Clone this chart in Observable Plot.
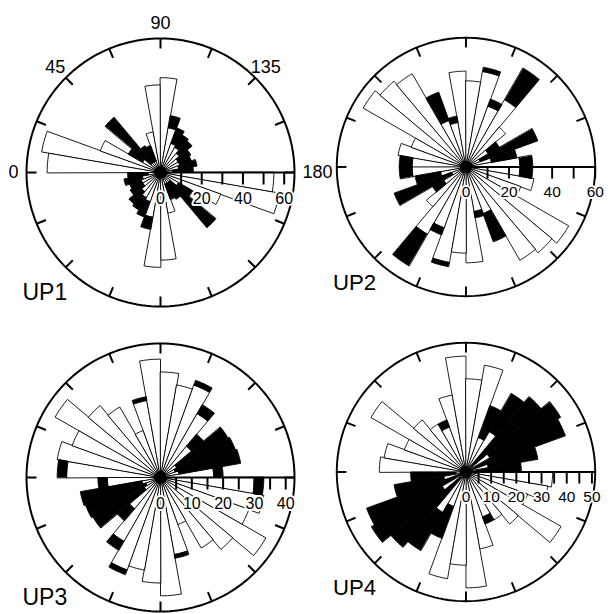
<!DOCTYPE html>
<html><head><meta charset="utf-8">
<script src="https://cdn.jsdelivr.net/npm/d3@7"></script>
<script src="https://cdn.jsdelivr.net/npm/@observablehq/plot@0.6"></script>
<style>
body{margin:0;background:#fff;}
#wrap{position:relative;width:614px;height:614px;overflow:hidden;background:#fff;}
#wrap > div{position:absolute;}
</style></head><body><div id="wrap"></div>
<script>
// orientation bins (degrees, 0 = W, 90 = N, 180 = E); each bin drawn twice (axial data)
const binStart = [0,10,20,30,40,50,60,70,80,90,100,110,120,130,140,150,160,170];

const up1White = [55,58.5,31,10,6,6,6,20,42.5,46,22,15,14,12,10,10,9,6];
const up1Black = [0,0,0,8,29,9,8,0,0,0,6,8,7,8,7,6,9,10];
const up2White = [25,32,27,55,52,50,23,21,44.5,40,45,30,36,24,12,7,12,25];
const up2Black = [6,0,0,0,0,0,14,3,0,0,2,3.5,17,0,6,28.5,12,6];
const up3White = [30,33.5,30,38.8,30,26,16,25,37.8,33.7,30,31.4,23.5,13,6,5,6,17];
const up3Black = [3,0,0,0,0,0,0,1.2,0,0,0,1.6,3.3,5,19,20.5,20,3];
const up4White = [34.4,33,26,43.5,27,22,19,31,46,37,43,14.5,18.5,3,11,3,9,4];
const up4Black = [0,0,0,0,0,0,3,0,0,0,0,13.5,17.5,36,32.4,39,20,18];

const up1Ticks = [10,20,30,40,50,60];
const up1Labels = [0,20,40,60];
const up2Ticks = [10,20,30,40,50,60];
const up2Labels = [0,20,40,60];
const up3Ticks = [5,10,15,20,25,30,35,40];
const up3Labels = [0,10,20,30,40];
const up4Ticks = [5,10,15,20,25,30,35,40,45,50];
const up4Labels = [0,10,20,30,40,50];

const angleLabels = ["0","45","90","135","180"];
const angleLabelDeg = [0,45,90,135,180];
const panelNames = ["UP1","UP2","UP3","UP4"];

const RPX = 134; // circle radius in px
const S = 308;
const panels = [
  {name: panelNames[0], white: up1White, black: up1Black, max: 65, ticks: up1Ticks, labels: up1Labels, cx: 160, cy: 172, angles: true},
  {name: panelNames[1], white: up2White, black: up2Black, max: 60, ticks: up2Ticks, labels: up2Labels, cx: 471, cy: 172},
  {name: panelNames[2], white: up3White, black: up3Black, max: 42.8, ticks: up3Ticks, labels: up3Labels, cx: 160, cy: 477},
  {name: panelNames[3], white: up4White, black: up4Black, max: 51.3, ticks: up4Ticks, labels: up4Labels, cx: 471, cy: 477}
];

const rad = d => d * Math.PI / 180;
const px = (phi, r) => -r * Math.cos(rad(phi));
const py = (phi, r) => r * Math.sin(rad(phi));

function wedge(id, a0, a1, r0, r1) {
  const pts = [];
  const n = 6;
  for (let k = 0; k <= n; k++) { const a = a0 + (a1 - a0) * k / n; pts.push({id, x: px(a, r1), y: py(a, r1)}); }
  if (r0 > 0) {
    for (let k = n; k >= 0; k--) { const a = a0 + (a1 - a0) * k / n; pts.push({id, x: px(a, r0), y: py(a, r0)}); }
  } else pts.push({id, x: 0, y: 0});
  return pts;
}

const wrap = document.getElementById("wrap");
panels.forEach((p, pi) => {
  const ppu = RPX / p.max;          // px per unit
  const half = (S / 2) / ppu;
  const R = p.max;
  const whiteRows = [], blackRows = [];
  binStart.forEach((b, i) => {
    [0, 180].forEach(m => {
      const a0 = b + m, a1 = b + 10 + m;
      const w = p.white[i], k = p.black[i];
      if (w > 0) whiteRows.push(...wedge(`w${i}-${m}`, a0, a1, 0, w));
      if (k > 0) blackRows.push(...wedge(`k${i}-${m}`, a0, a1, w, w + k));
    });
  });
  const circle = d3.range(0, 360, 2).map(a => ({x: px(a, R), y: py(a, R)}));
  const ringTicks = d3.range(0, 360, 22.5);
  const tl = 10 / ppu;
  const marks = [
    Plot.line(whiteRows, {x: "x", y: "y", z: "id", curve: "linear-closed", fill: "white", stroke: "black", strokeWidth: 0.9}),
    Plot.line(blackRows, {x: "x", y: "y", z: "id", curve: "linear-closed", fill: "black", stroke: "black", strokeWidth: 0.9}),
    Plot.line(circle, {x: "x", y: "y", curve: "linear-closed", stroke: "black", strokeWidth: 2, fill: "none"}),
    Plot.link(ringTicks, {x1: a => px(a, R), y1: a => py(a, R), x2: a => px(a, R - tl), y2: a => py(a, R - tl), stroke: "black", strokeWidth: 2}),
    Plot.link([0], {x1: () => 0, y1: () => 0, x2: () => R, y2: () => 0, stroke: "black", strokeWidth: 2}),
    Plot.link(p.ticks, {x1: t => t, y1: () => 0, x2: t => t, y2: () => -12 / ppu, stroke: "black", strokeWidth: 2}),
    Plot.text(p.labels, {x: t => t, y: () => -26 / ppu, text: t => String(t), fontSize: 16, fill: "black", stroke: "white", strokeWidth: 4, paintOrder: "stroke"}),
    Plot.dot([0], {x: () => 0, y: () => 0, r: 6.5, fill: "black"}),
    Plot.text([p.name], {x: () => -138 / ppu, y: () => -120 / ppu, text: d => d, textAnchor: "start", fontSize: 23, fill: "black"})
  ];
  if (p.angles) {
    const idx = d3.range(angleLabels.length);
    const off = i => (angleLabelDeg[i] === 0 || angleLabelDeg[i] === 180) ? 8 : 15;
    const lx = i => px(angleLabelDeg[i], R + off(i) / ppu);
    const ly = i => py(angleLabelDeg[i], R + off(i) / ppu);
    const common = {x: lx, y: ly, text: i => angleLabels[i], fontSize: 18, fill: "black"};
    marks.push(Plot.text(idx.filter(i => angleLabelDeg[i] === 0), {...common, textAnchor: "end"}));
    marks.push(Plot.text(idx.filter(i => angleLabelDeg[i] === 180), {...common, textAnchor: "start"}));
    marks.push(Plot.text(idx.filter(i => angleLabelDeg[i] > 0 && angleLabelDeg[i] < 180), {...common, textAnchor: "middle"}));
  }
  const chart = Plot.plot({
    width: S, height: S, margin: 0,
    x: {domain: [-half, half], axis: null},
    y: {domain: [-half, half], axis: null},
    style: {background: "transparent", overflow: "visible", fontFamily: "'Liberation Sans', Arial, sans-serif"},
    marks
  });
  const div = document.createElement("div");
  div.style.left = (p.cx - S / 2) + "px";
  div.style.top = (p.cy - S / 2) + "px";
  div.appendChild(chart);
  wrap.appendChild(div);
});
</script></body></html>
